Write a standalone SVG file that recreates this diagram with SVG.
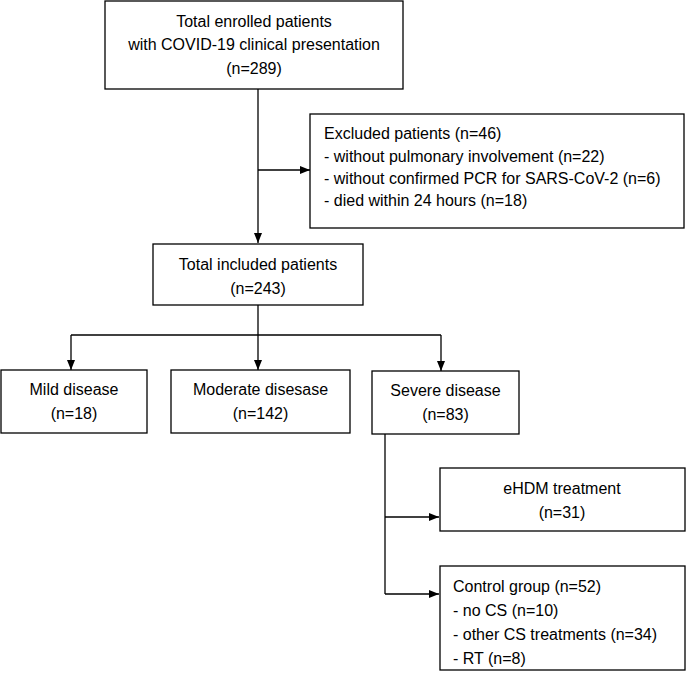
<svg xmlns="http://www.w3.org/2000/svg" width="687" height="681" viewBox="0 0 687 681">
<defs>
<marker id="ah" markerWidth="10" markerHeight="8" refX="10" refY="4" orient="auto" markerUnits="userSpaceOnUse">
<path d="M0,0 L10,4 L0,8 Z" fill="#000"/>
</marker>
<style>
.box{fill:#fff;stroke:#000;stroke-width:1.3}
.t{font-family:"Liberation Sans",Arial,sans-serif;font-size:16px;fill:#000}
.c{text-anchor:middle}
.ln{fill:none;stroke:#000;stroke-width:1.3}
</style>
</defs>
<rect width="687" height="681" fill="#fff"/>
<g id="connectors">
<path class="ln" d="M258,89 V243" marker-end="url(#ah)"/>
<path class="ln" d="M258,170 H310" marker-end="url(#ah)"/>
<path class="ln" d="M258,305 V335"/>
<path class="ln" d="M71,335 H441"/>
<path class="ln" d="M71,335 V370" marker-end="url(#ah)"/>
<path class="ln" d="M258,335 V370" marker-end="url(#ah)"/>
<path class="ln" d="M441,335 V371" marker-end="url(#ah)"/>
<path class="ln" d="M385,434 V594"/>
<path class="ln" d="M385,517 H439" marker-end="url(#ah)"/>
<path class="ln" d="M385,594 H439" marker-end="url(#ah)"/>
</g>
<g id="enrolled">
<rect class="box" x="105" y="1" width="298" height="88"/>
<text class="t c" x="254" y="27">Total enrolled patients</text>
<text class="t c" x="254" y="50">with COVID-19 clinical presentation</text>
<text class="t c" x="254" y="74">(n=289)</text>
</g>
<g id="excluded">
<rect class="box" x="310" y="114" width="374" height="114"/>
<text class="t" x="324" y="139">Excluded patients (n=46)</text>
<text class="t" x="324" y="162">- without pulmonary involvement (n=22)</text>
<text class="t" x="324" y="184">- without confirmed PCR for SARS-CoV-2 (n=6)</text>
<text class="t" x="324" y="206">- died within 24 hours (n=18)</text>
</g>
<g id="included">
<rect class="box" x="153" y="244" width="210" height="61"/>
<text class="t c" x="258" y="270">Total included patients</text>
<text class="t c" x="258" y="294">(n=243)</text>
</g>
<g id="mild">
<rect class="box" x="1" y="370" width="146" height="63"/>
<text class="t c" x="74" y="395">Mild disease</text>
<text class="t c" x="74" y="419">(n=18)</text>
</g>
<g id="moderate">
<rect class="box" x="171" y="370" width="179" height="63"/>
<text class="t c" x="260.5" y="395">Moderate disesase</text>
<text class="t c" x="260.5" y="419">(n=142)</text>
</g>
<g id="severe">
<rect class="box" x="372" y="371" width="147" height="63"/>
<text class="t c" x="445.5" y="396">Severe disease</text>
<text class="t c" x="445.5" y="420">(n=83)</text>
</g>
<g id="ehdm">
<rect class="box" x="440" y="468" width="245" height="63"/>
<text class="t c" x="562" y="494">eHDM treatment</text>
<text class="t c" x="562" y="518">(n=31)</text>
</g>
<g id="control">
<rect class="box" x="440" y="566" width="245" height="104"/>
<text class="t" x="453" y="592">Control group (n=52)</text>
<text class="t" x="453" y="616">- no CS (n=10)</text>
<text class="t" x="453" y="640">- other CS treatments (n=34)</text>
<text class="t" x="453" y="664">- RT (n=8)</text>
</g>
</svg>
